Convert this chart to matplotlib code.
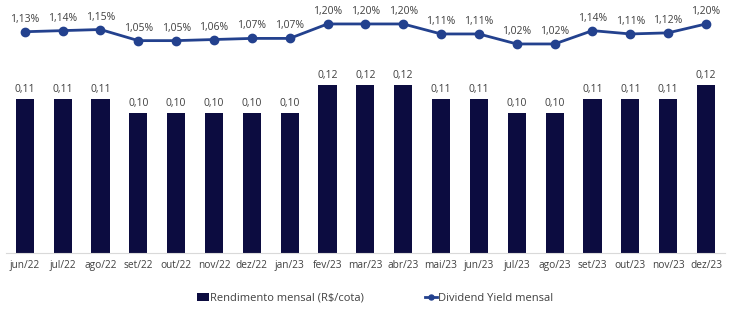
from matplotlib import pyplot as plt
import numpy as np

# Monthly income per share and dividend yield
months = ["jun/22", "jul/22", "ago/22", "set/22", "out/22", "nov/22", "dez/22", "jan/23", "fev/23",
          "mar/23", "abr/23", "mai/23", "jun/23", "jul/23", "ago/23", "set/23", "out/23", "nov/23", "dez/23"]
rendimento = [0.11, 0.11, 0.11, 0.10, 0.10, 0.10, 0.10, 0.10, 0.12, 0.12, 0.12, 0.11, 0.11, 0.10, 0.10, 0.11, 0.11, 0.11, 0.12]
dy = [1.13, 1.14, 1.15, 1.05, 1.05, 1.06, 1.07, 1.07, 1.20, 1.20, 1.20, 1.11, 1.11, 1.02, 1.02, 1.14, 1.11, 1.12, 1.20]

plt.rcParams['font.family'] = ['Open Sans', 'DejaVu Sans']
bar_color = '#0c0c40'
line_color = '#23418e'
text_color = '#404040'

n = len(months)
x = np.arange(n)

fig = plt.figure(figsize=(7.30, 3.09), dpi=100)
ax = fig.add_axes([0.008, 0.181, 0.985, 0.803])
ax.bar(x, rendimento, width=0.48, color=bar_color, label='Rendimento mensal (R\\$/cota)')
for xi, v in zip(x, rendimento):
    ax.annotate(f"{v:.2f}".replace('.', ','), (xi, v), xytext=(0, 3), textcoords='offset points',
                ha='center', va='bottom', fontsize=7.5, color=text_color)
ax.set_xlim(-0.5, n - 0.5)
ax.set_ylim(0, 0.177)
ax.set_xticks(x)
ax.set_xticklabels(months, fontsize=7.3, color=text_color)
ax.tick_params(axis='x', length=0, pad=5)
ax.set_yticks([])
for s in ['top', 'left', 'right']:
    ax.spines[s].set_visible(False)
ax.spines['bottom'].set_color('#d9d9d9')

ax2 = ax.twinx()
ax2.plot(x, dy, color=line_color, marker='o', markersize=6, linewidth=2, label='Dividend Yield mensal')
for xi, v in zip(x, dy):
    ax2.annotate(f"{v:.2f}%".replace('.', ','), (xi, v), xytext=(0, 5), textcoords='offset points',
                 ha='center', va='bottom', fontsize=7.5, color=text_color)
ax2.set_ylim(-0.861, 1.371)
ax2.set_yticks([])
for s in ['top', 'left', 'right', 'bottom']:
    ax2.spines[s].set_visible(False)

h1, l1 = ax.get_legend_handles_labels()
h2, l2 = ax2.get_legend_handles_labels()
fig.legend(h1 + h2, l1 + l2, loc='center', bbox_to_anchor=(0.514, 0.035), ncol=2, frameon=False,
           fontsize=8, labelcolor=text_color, handlelength=1.1, handletextpad=0.1, columnspacing=5.5,
           markerscale=0.6)

fig.savefig('out.png', dpi=100)
